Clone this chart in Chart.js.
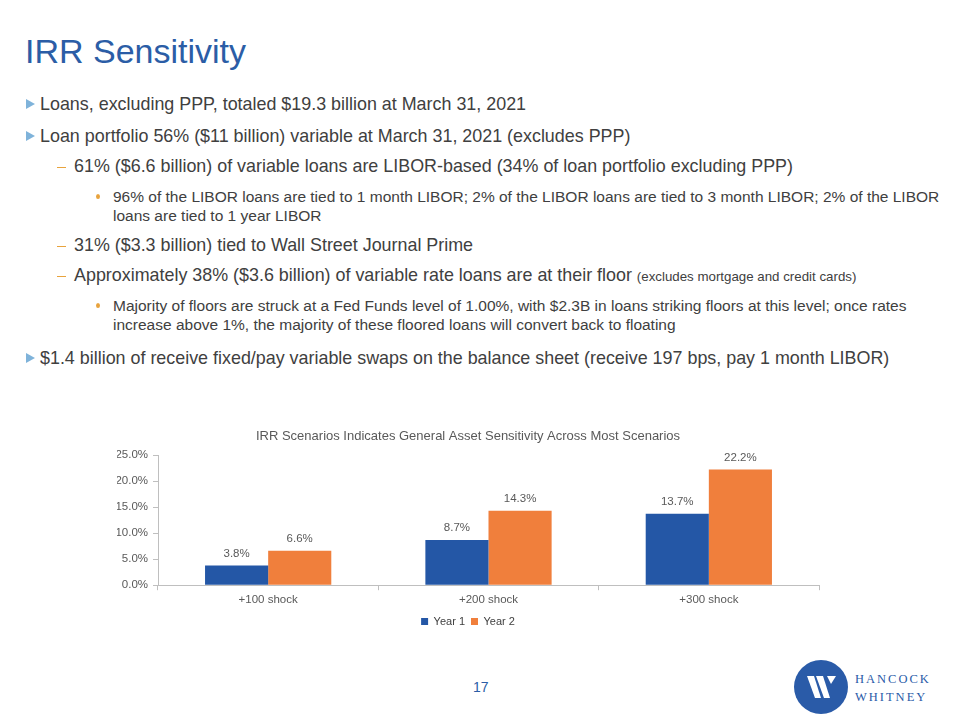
<!DOCTYPE html>
<html>
<head>
<meta charset="utf-8">
<script src="https://cdn.jsdelivr.net/npm/chart.js@4"></script>
<style>
  html, body { margin: 0; padding: 0; background: #fff; }
  body { width: 960px; height: 720px; position: relative; overflow: hidden; font-family: "Liberation Sans", Arial, sans-serif; color: #404040; }
  .title { position: absolute; left: 25px; top: 32px; font-size: 34px; color: #2B5DA6; }
  .ln { position: absolute; white-space: nowrap; }
  .l1 { left: 40px; font-size: 17.9px; line-height: 20px; }
  .l2 { left: 74px; font-size: 17.9px; line-height: 20px; }
  .l3 { left: 113px; font-size: 15.5px; line-height: 19px; }
  .tri { position: absolute; width: 0; height: 0; border-top: 5px solid transparent; border-bottom: 5px solid transparent; border-left: 9px solid #7FB3DA; }
  .dash { position: absolute; width: 9px; height: 1px; background: #E8A33D; }
  .dot { position: absolute; width: 4px; height: 5px; border-radius: 50%; background: #E8A33D; }
  .small { font-size: 13.3px; }
  #wrap { position: absolute; left: 110px; top: 425px; width: 730px; height: 212px; }
  .pg { position: absolute; left: 473px; top: 679px; font-size: 14px; color: #2B5DA6; }
</style>
</head>
<body>
<div class="title">IRR Sensitivity</div>

<div class="tri" style="left:26px;top:99px"></div>
<div class="ln l1" style="top:94px">Loans, excluding PPP, totaled $19.3 billion at March 31, 2021</div>

<div class="tri" style="left:26px;top:131px"></div>
<div class="ln l1" style="top:126px">Loan portfolio 56% ($11 billion) variable at March 31, 2021 (excludes PPP)</div>

<div class="dash" style="left:57px;top:167px"></div>
<div class="ln l2" style="top:156px">61% ($6.6 billion) of variable loans are LIBOR-based (34% of loan portfolio excluding PPP)</div>

<div class="dot" style="left:96px;top:194px"></div>
<div class="ln l3" style="top:187px">96% of the LIBOR loans are tied to 1 month LIBOR; 2% of the LIBOR loans are tied to 3 month LIBOR; 2% of the LIBOR<br>loans are tied to 1 year LIBOR</div>

<div class="dash" style="left:57px;top:246px"></div>
<div class="ln l2" style="top:235px">31% ($3.3 billion) tied to Wall Street Journal Prime</div>

<div class="dash" style="left:57px;top:276px"></div>
<div class="ln l2" style="top:265px">Approximately 38% ($3.6 billion) of variable rate loans are at their floor <span class="small">(excludes mortgage and credit cards)</span></div>

<div class="dot" style="left:96px;top:303px"></div>
<div class="ln l3" style="top:296px">Majority of floors are struck at a Fed Funds level of 1.00%, with $2.3B in loans striking floors at this level; once rates<br>increase above 1%, the majority of these floored loans will convert back to floating</div>

<div class="tri" style="left:26px;top:353px"></div>
<div class="ln l1" style="top:348px">$1.4 billion of receive fixed/pay variable swaps on the balance sheet (receive 197 bps, pay 1 month LIBOR)</div>

<div id="wrap"><canvas id="irr"></canvas></div>

<div class="pg">17</div>

<svg style="position:absolute;left:790px;top:656px" width="160" height="62">
  <circle cx="31" cy="31" r="27" fill="#2A5BA8"/>
  <polygon points="17,20 24,20 31,42 25,42" fill="#fff"/>
  <polygon points="26,20 33,20 40,42 34,42" fill="#fff"/>
  <polygon points="37,20 46,20 41,28" fill="#fff"/>
  <text x="65" y="27" font-family="Liberation Serif, serif" font-size="12.5" letter-spacing="2" fill="#2A5BA8">HANCOCK</text>
  <text x="65" y="45" font-family="Liberation Serif, serif" font-size="12.5" letter-spacing="2" fill="#2A5BA8">WHITNEY</text>
</svg>

<script>
const categories = ['+100 shock', '+200 shock', '+300 shock'];
const year1 = [3.8, 8.7, 13.7];
const year2 = [6.6, 14.3, 22.2];
const yTicks = [0, 5, 10, 15, 20, 25];

const grey = '#595959';
const axisLine = '#BFBFBF';
const family = '"Liberation Sans", Arial, sans-serif';

// value labels above each bar
const barLabels = {
  id: 'barLabels',
  afterDatasetsDraw(chart) {
    const ctx = chart.ctx;
    ctx.save();
    ctx.font = '11.5px ' + family;
    ctx.fillStyle = grey;
    ctx.textAlign = 'center';
    ctx.textBaseline = 'middle';
    chart.data.datasets.forEach((ds, i) => {
      chart.getDatasetMeta(i).data.forEach((bar, j) => {
        ctx.fillText(ds.data[j].toFixed(1) + '%', bar.x, bar.y - 12);
      });
    });
    ctx.restore();
  }
};

new Chart(document.getElementById('irr'), {
  type: 'bar',
  data: {
    labels: categories,
    datasets: [{
      label: 'Year 1',
      data: year1,
      backgroundColor: '#2457A6'
    }, {
      label: 'Year 2',
      data: year2,
      backgroundColor: '#F07F3C'
    }]
  },
  options: {
    responsive: true,
    maintainAspectRatio: false,
    animation: false,
    events: [],
    layout: { padding: { left: 7, right: 21, top: 0, bottom: 0 } },
    datasets: {
      bar: { categoryPercentage: 0.573, barPercentage: 1.0 }
    },
    scales: {
      x: {
        grid: { display: true, drawOnChartArea: false, offset: true, tickLength: 5, color: axisLine },
        border: { color: axisLine },
        ticks: { color: grey, font: { size: 11.5, family: family }, padding: 3 }
      },
      y: {
        min: 0, max: 25,
        afterFit: s => { s.width = 41; },
        afterBuildTicks: s => { s.ticks = yTicks.map(v => ({ value: v })); },
        grid: { display: true, drawOnChartArea: false, tickLength: 5, color: axisLine },
        border: { color: axisLine },
        ticks: {
          color: grey,
          font: { size: 11.5, family: family },
          padding: 5,
          callback: v => v.toFixed(1) + '%'
        }
      }
    },
    plugins: {
      title: {
        display: true,
        text: 'IRR Scenarios Indicates General Asset Sensitivity Across Most Scenarios',
        color: grey,
        font: { size: 13, weight: 'normal', family: family },
        padding: { top: 4, bottom: 10.4 }
      },
      legend: {
        position: 'bottom',
        labels: {
          color: '#404040',
          boxWidth: 7, boxHeight: 7,
          padding: 6,
          font: { size: 11, family: family }
        }
      },
      tooltip: { enabled: false }
    }
  },
  plugins: [barLabels]
});
</script>
</body>
</html>
